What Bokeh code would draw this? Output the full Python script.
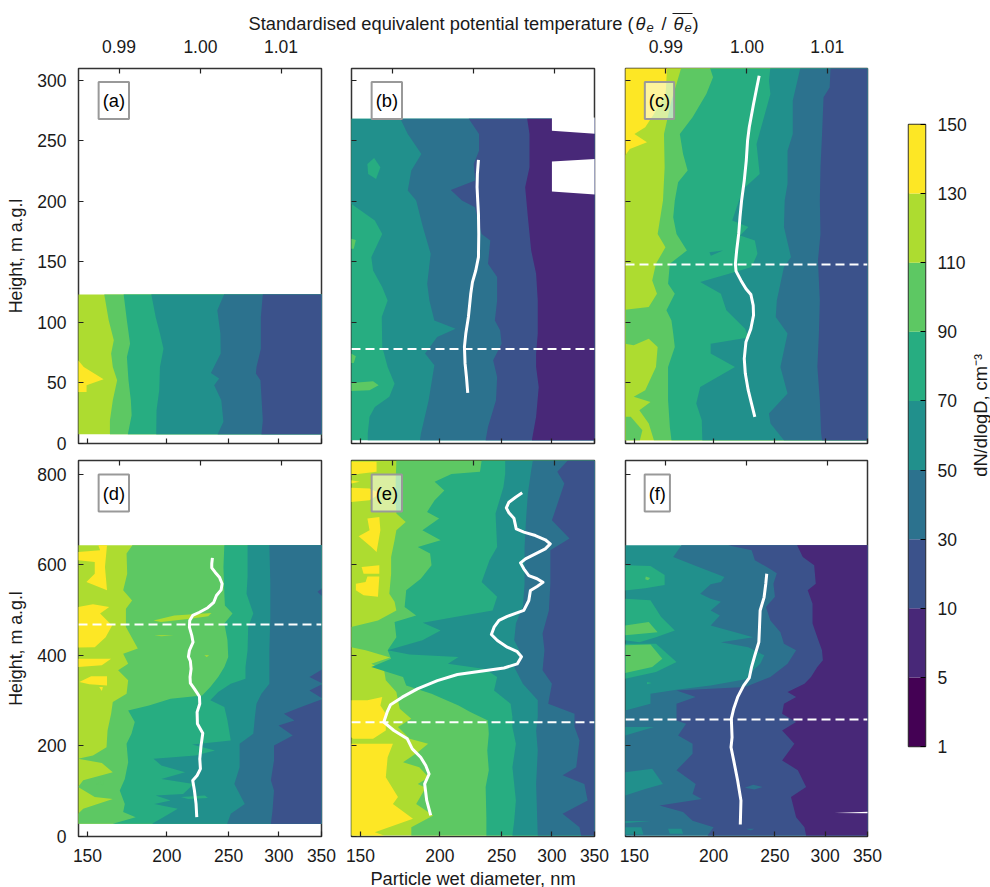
from bokeh.embed import file_html
from bokeh.resources import INLINE
from bokeh.layouts import column, row
from bokeh.models import (Range1d, LinearAxis, FixedTicker, PrintfTickFormatter, Label,
                          NumeralTickFormatter)
from bokeh.plotting import figure

FONT = "Liberation Sans"
FS = "17.5px"
FL = "18.3px"
INK = "#1a1a1a"

C1, C5, C10, C30, C50, C70, C90, C110, C130 = ("#440154", "#482878", "#3B528B", "#2C728E", "#21908C",
                                                "#27AD81", "#5DC863", "#ADDC30", "#FDE725")
cb_labels = ["1", "5", "10", "30", "50", "70", "90", "110", "130", "150"]
cb_colors = [C1, C5, C10, C30, C50, C70, C90, C110, C130]

x_ticks = [150, 200, 250, 300, 350]
theta_ticks = [0.99, 1.00, 1.01]
top_y_ticks = [0, 50, 100, 150, 200, 250, 300]
bot_y_ticks = [0, 200, 400, 600, 800]

# ---------------- panel (a)
a_h110 = [123, 101.6, 85.2, 74.2, 63.2, 52.2, 35.7, 19.2, 7.7]
a_d110 = [159.4, 162, 165, 163.4, 164.4, 167, 164.4, 162.7, 162.7]
a_h90 = [123, 101.6, 82.4, 71.4, 52.2, 35.7, 23.3, 7.7]
a_d90 = [171, 173, 175, 173, 174, 175.5, 176, 173.6]
a_h70 = [123, 104.4, 90.7, 78.3, 63.2, 44, 27.5, 7.7]
a_d70 = [189, 192, 195, 197.5, 195, 194.5, 192.6, 192.4]
a_h50 = [123, 109.9, 90.7, 74.2, 58.2, 53.6, 48, 35.7, 17.9, 7.7]
a_d50 = [246, 240, 242.7, 243, 234.5, 241.6, 237.3, 243.5, 245.4, 240.3]
a_h30 = [123, 104.4, 78.3, 63.2, 57.7, 52.2, 19.2, 7.7]
a_d30 = [283, 281, 281, 276.6, 276, 280.6, 283, 281.6]
a_yd = [145, 148, 159, 149.5, 149.5, 145]
a_yh = [68.7, 63.2, 53, 48, 42.6, 42.6]

# ---------------- panel (b)
b_h70 = [268.1, 197.8, 184, 173, 153.8, 142.8, 129, 118, 104.4, 79.7, 63.2, 49.4, 38.5, 30.2, 22, 8.2, 2.7]
b_d70 = [145, 145, 158, 162.3, 156, 157, 162.3, 165.5, 162, 162.3, 165.5, 169.7, 166.5, 158, 155, 154, 154]
b_h50 = [268.1, 255.5, 239, 225.3, 208.8, 200.5, 178.6, 156.6, 131.9, 118, 101.6, 94.8, 87.9, 74.2, 64.6, 35.7, 8.2, 2.7]
b_d50 = [173.3, 178, 187, 180.3, 178, 183.5, 188, 193.4, 191, 192.5, 196, 211.7, 198, 189.5, 196, 192, 186.7, 186]
b_h30 = [268.1, 255.5, 241.7, 230.7, 217, 209.3, 200.5, 195, 173, 167.6, 148.3, 137.4, 118, 101.6, 93.4, 82.4, 68.7, 54.9, 35.7, 13.7, 2.7]
b_d30 = [222, 230.4, 230.4, 226, 227.2, 208, 216.6, 227, 232.6, 240, 238, 246, 246, 244, 248.7, 250, 242.5, 246, 245, 238, 236]
b_h10 = [268.1, 255.5, 228, 211.5, 186.8, 159.3, 140, 118, 90.7, 74.2, 63.2, 46.7, 22, 2.7]
b_d10 = [274.3, 276.6, 276.6, 272.3, 275, 278.3, 283.3, 285, 285, 283.3, 283.3, 286, 283.3, 279]
b_gap1_d = [300, 300, 352, 352]
b_gap1_h = [269, 258.2, 255.5, 269]
b_gap2_d = [300, 352, 352, 300]
b_gap2_h = [232.7, 234.9, 205.5, 207.9]
b_i70_d = [153.8, 157.6, 161.2, 158.7, 154.2]
b_i70_h = [230.7, 235.7, 228, 218.4, 222.5]
b_g1_d = [145, 147.5, 146.4, 145]
b_g1_h = [169, 168, 160.7, 160.7]
b_g2_d = [145, 147.5, 146.4, 145]
b_g2_h = [74.2, 72, 66.5, 66.5]
b_g3_d = [145, 157, 160.2, 155, 145]
b_g3_h = [50, 51.4, 48, 44, 43.4]
b_th = [1.00062, 1.00049, 1.00045, 1.00053, 1.00062, 1.00066, 1.00062, 1.00029, 0.99988, 0.99967, 0.99938, 0.99906, 0.99889, 0.99897, 0.99914, 0.9993]
b_tz = [234, 222.5, 211.5, 200.5, 189.5, 173, 153.8, 142.8, 133.2, 123.6, 104.4, 90.7, 79.7, 65.9, 54.9, 41.8]
b_inv = 78

# ---------------- panel (c)
c_h130 = [310.4, 288.4, 272, 261, 255.5, 248.6, 243.1, 237.6, 2.7]
c_d130 = [168.9, 168, 161, 156, 150, 157, 147.5, 145, 145]
c_h110 = [310.4, 282.9, 255.5, 228, 200.5, 173, 162, 148.3, 134.6, 123.6, 112.6, 110.4, 82.4, 81, 86.5, 79.7, 63.2, 44, 38.5, 34.3, 27.5, 16.5, 2.7]
c_d110 = [177.9, 171.6, 167, 167.4, 166.4, 163.2, 167.9, 162.2, 160, 162.8, 158, 145, 145, 149.6, 158, 163.2, 162.2, 156, 149.6, 159, 152.7, 158, 161]
c_h90 = [310.4, 302.2, 288.4, 269.2, 255.5, 239, 225.3, 215.6, 200.5, 186.8, 173, 159.3, 148.3, 131.9, 123.6, 109.9, 101.6, 90.7, 79.7, 63.2, 35.7, 13.7, 2.7]
c_d90 = [197.3, 199.6, 194.8, 185.3, 176.9, 179, 182, 175.8, 173.7, 172.7, 174.8, 181.5, 170.6, 169.5, 173.7, 168.5, 171.6, 172.7, 173.7, 169.5, 169.5, 170.6, 171.6]
c_h70 = [310.4, 299.4, 288.4, 247.2, 222.5, 211.5, 203.3, 184, 178.6, 171.7, 167.6, 156.6, 145.6, 141.5, 133.2, 123.6, 109.9, 94.8, 87.4, 82.4, 74.2, 63.2, 46.7, 33, 19.2, 2.7]
c_d70 = [245.9, 244.6, 245.9, 233.8, 236.5, 224.3, 220.3, 214, 227, 220.3, 232.4, 234.6, 229.7, 216.2, 190.5, 205.4, 209.5, 224.3, 227, 197.9, 197.9, 216.2, 190.5, 187.8, 191.6, 192]
c_h50 = [310.4, 282.9, 255.5, 241.7, 214.3, 200.5, 178.6, 153.8, 145.6, 118, 104.4, 90.7, 63.2, 41.2, 24.7, 16.5, 2.7]
c_d50 = [274.3, 266.7, 266.7, 261.7, 261.7, 259, 258.3, 265, 258.3, 251.7, 250.7, 261.7, 255, 261.7, 244.6, 246, 258.3]
c_h30 = [310.4, 293.9, 285.7, 255.5, 228, 200.5, 173, 151, 118, 90.7, 63.2, 35.7, 8.2, 2.7]
c_d30 = [306, 305, 298.3, 296.7, 295, 294.3, 295, 292.3, 294.3, 293.3, 291.7, 294.3, 295.7, 296.7]
c_i50_d = [197, 207, 198]
c_i50_h = [157.9, 159.3, 155]
c_g_d = [145, 148, 154.4, 153, 145]
c_g_h = [22, 22, 11, 2.7, 2.7]
c_th = [1.00152, 1.00119, 1.00082, 1.00029, 1.00008, 0.99992, 0.99967, 0.99934, 0.99914, 0.99898, 0.99873, 0.99857, 0.99865, 0.99926, 0.99988, 1.00049, 1.00078, 1.00082, 1.00049, 0.99988, 0.99967, 0.9998, 1.00016, 1.00057, 1.00098]
c_tz = [303.5, 292.6, 280.2, 261, 250, 233.5, 217, 200.5, 186.8, 173, 159.3, 148.3, 142.3, 134.6, 127.7, 123, 114, 105.8, 94.8, 83.8, 70, 57.7, 44, 33, 22]
c_inv = 147.8

# ---------------- panel (d)
d_h110 = [643, 624.5, 580, 543.5, 521, 503, 462.5, 415, 403.5, 381.5, 367, 345, 315, 297, 271, 234, 197, 179, 171.6, 162, 142, 124, 109, 87, 83, 61, 50, 28]
d_d110 = [176.5, 172.8, 173.2, 170.7, 176.3, 172.4, 172.4, 180, 170.7, 173.8, 167.6, 173.8, 172.8, 164.4, 163.4, 161.3, 160.7, 153, 145, 158, 164.4, 147.7, 145, 154, 164.4, 147.7, 145, 145]
d_h90 = [643, 595, 536, 510, 492, 470, 433, 396, 374, 352, 330, 311.5, 304, 289, 278, 252.6, 227, 204.7, 164, 127, 101.6, 72, 54, 42.7, 28]
d_d90 = [246.2, 245.4, 246.2, 246.7, 253.6, 246.2, 249, 249.7, 246.2, 240.8, 234, 227.2, 202.7, 187.4, 173.8, 178, 175.9, 172.8, 173.8, 171.7, 168.6, 171.7, 170.7, 178.6, 164.4]
d_h70 = [643, 573, 536, 492, 462.5, 411, 374, 348, 337, 319, 300.5, 286, 256, 212, 203, 190, 179, 171.6, 157, 142, 127, 116, 94, 90.6, 79.5, 72, 61, 42.7, 28]
d_d70 = [267.8, 267.8, 266.8, 273.4, 268.4, 267.8, 265.8, 265.8, 252, 240.8, 234, 246.2, 249, 252, 219.1, 238, 221.8, 190.5, 196, 213.6, 196, 220.4, 212, 192, 202.7, 191.1, 208, 197.4, 189.5]
d_h50 = [643, 558, 484.5, 411, 337, 315, 293, 263.6, 227, 204.7, 153, 116, 72, 50, 28]
d_d50 = [289.8, 290.8, 290.8, 289.8, 289.8, 281.6, 276.6, 275, 273.4, 260.2, 260.2, 255.3, 265.1, 252, 248.7]
d_h30 = [370, 352, 337, 322.5, 304, 286, 271, 256, 245, 223, 201, 168, 124, 101.6, 57, 28]
d_d30 = [352, 335, 352, 335, 352, 325, 305.5, 317.3, 299.6, 315.4, 294.7, 294.7, 291.4, 294.7, 293.1, 291.4]
d_nib_d = [352, 345, 352]
d_nib_h = [550, 540, 529]
d_y1_d = [145, 157, 156, 161, 159.8, 161, 149.4, 154, 154, 145]
d_y1_h = [628, 632, 643, 643, 595, 543.5, 562, 580, 606, 610]
d_y2_d = [145, 153, 162.3, 157, 164, 160.2, 154, 145]
d_y2_h = [506.6, 512.5, 506.6, 492, 466, 440, 418, 417]
d_y3_d = [145, 163.4, 158, 145]
d_y3_h = [392.5, 392.5, 378, 374]
d_y4_d = [145.6, 152, 161, 161, 151]
d_y4_h = [341, 353.5, 353.5, 333.6, 336]
d_y5_d = [156.5, 158.6, 158]
d_y5_h = [330, 330, 321]
d_l1_d = [190.5, 205.4, 235, 232.2, 219, 195.8]
d_l1_h = [477, 488, 493.4, 486, 481, 473.5]
d_l2_d = [191, 205, 196]
d_l2_h = [444, 444, 442]
d_l3_d = [229, 233, 231]
d_l3_h = [400, 400, 396]
d_g1_d = [155, 159, 158.6]
d_g1_h = [116, 124, 113]
d_t1_d = [210.3, 229.4, 232, 216]
d_t1_h = [87, 90.6, 85, 83]
d_th = [1.00148, 1.0014, 1.0014, 1.00181, 1.00235, 1.00268, 1.00256, 1.00198, 1.00165, 1.00091, 0.99988, 0.99905, 0.99868, 0.99864, 0.99893, 0.99909, 0.99864, 0.99852, 0.99876, 0.99885, 0.99872, 0.99876, 0.99926, 0.99988, 0.99992, 0.99959, 0.99963, 1.00029, 1.00008, 0.99992, 1.0, 0.99959, 0.99905, 0.99926, 0.99946, 0.99955]
d_tz = [615, 602, 593, 583.5, 572.5, 558, 544.5, 532, 517, 505, 495, 488, 477, 462, 444, 429, 410.6, 397, 387, 370, 352, 338.5, 326, 309, 293, 274.5, 249, 228, 201, 171.4, 149.4, 134.6, 123.6, 101.5, 72, 42.7]
d_inv = 468

# ---------------- panel (e)
e_h110 = [830, 786.5, 742, 713, 694, 676, 654, 617, 580, 536, 518, 499, 477, 462.5, 418, 411, 395, 381.5, 367, 345, 319, 282, 260, 241.5, 216, 204.7, 186, 164, 153, 131, 116, 107.5, 72, 46.4, 20.6, 2]
e_d110 = [170.8, 170.4, 170.4, 170.8, 176.7, 170.8, 169.7, 167.6, 167.6, 166.5, 169.7, 170.8, 159.8, 145, 145, 152.8, 167, 156, 163.4, 164.4, 170.8, 172.9, 180.3, 171.8, 179.3, 191.6, 184.6, 175, 185.6, 192, 184.6, 189.9, 183.5, 195.2, 180.3, 180.3]
e_h90 = [830, 805, 800, 783, 764, 742, 716.5, 702, 676, 654, 639, 624.5, 599, 569, 543.5, 506.6, 488, 473.5, 440, 411, 392.5, 374, 352, 333.6, 315, 289, 275, 256, 227, 190, 146, 109, 42.7, 2]
e_d90 = [232.6, 231.2, 208.5, 196.2, 203.2, 196.2, 190.9, 199.4, 187.7, 200.5, 184.6, 193, 194, 186.6, 177, 176, 183.5, 169.7, 170.8, 165.5, 167.6, 156, 175, 177, 194, 213.9, 223.2, 237.9, 238.7, 237.4, 238.7, 236, 236.6, 236.6]
e_h70 = [830, 801, 771.7, 713, 639, 610, 562, 529, 499, 484.5, 472, 455, 433, 411, 402, 396, 381.5, 370, 352, 322.5, 293, 263.6, 241.5, 204.7, 153, 79.5, 35, 2]
e_d70 = [253.3, 253.3, 251.7, 244.6, 246, 239.3, 232.6, 246, 242, 211.2, 188, 200.5, 187.7, 165.5, 179.2, 213.9, 205.9, 235.3, 246, 243.3, 258.3, 260, 260, 263.3, 260, 263.3, 261.7, 260]
e_h50 = [830, 808.6, 757, 705.5, 639, 558, 506.6, 499, 470, 433, 403.5, 374, 337, 300.5, 263.6, 234, 190, 116, 2]
e_d50 = [280, 278.3, 275, 273.3, 271.7, 271.7, 270, 268.3, 263.3, 261.7, 268.3, 261.7, 270, 285, 285, 283.3, 285, 283.3, 285]
e_h30 = [830, 805, 779, 698, 657.6, 632, 558, 499, 448, 411, 367, 337, 293, 271, 241.5, 212, 153, 135, 116, 79.5, 50, 20.6, 2]
e_d30 = [317.7, 305.9, 313.8, 300, 319.7, 298.3, 298.3, 296.7, 290, 292, 290, 300, 296, 325.6, 325.6, 331.5, 327.6, 311.8, 337.4, 341.4, 311.8, 331.5, 333.5]
e_y1_d = [145, 159, 159, 149.6, 145]
e_y1_h = [827, 827, 805, 801, 797.5]
e_y2_d = [145, 149.6, 145]
e_y2_h = [786.5, 783, 779]
e_y3_d = [145, 155, 161.2, 155, 145]
e_y3_h = [770, 768, 757, 742, 738.6]
e_y4_d = [153.8, 160.6, 161.2, 159, 156, 149, 155]
e_y4_h = [702, 705.5, 676, 628, 639, 663, 676]
e_y5_d = [150.6, 160.6, 160.6, 151.7]
e_y5_h = [595, 599, 580, 580]
e_y6_d = [147.5, 152.8, 153.8, 160.6, 159.8, 151.7, 147.5]
e_y6_h = [558, 562, 574, 574, 529, 532.4, 543.5]
e_y7_d = [145, 153.8, 162.3, 161.2, 164.4, 164.4, 157, 146, 145]
e_y7_h = [300.5, 300.5, 308, 289, 271, 234, 216, 216, 219]
e_y8_d = [145, 168.7, 165.5, 164.4, 171.8, 168.7, 181.4, 158, 163.4, 145]
e_y8_h = [204.7, 204.7, 175, 131, 87, 72, 39, 9.6, 2, 2]
e_th = [1.00604, 1.00522, 1.00439, 1.00407, 1.00439, 1.00501, 1.0053, 1.00624, 1.00768, 1.00891, 1.00953, 1.00891, 1.00768, 1.00645, 1.00583, 1.00624, 1.00686, 1.00789, 1.00862, 1.00789, 1.00706, 1.00686, 1.00624, 1.00419, 1.00316, 1.00255, 1.00222, 1.00296, 1.00419, 1.00542, 1.00595, 1.00542, 1.00378, 1.0009, 0.99803, 0.99556, 0.9931, 0.99125, 0.98982, 0.9894, 0.98899, 0.99023, 0.99187, 0.99248, 0.99351, 0.99413, 0.99454, 0.994, 0.99425, 0.99474]
e_tz = [758.6, 749, 738, 725.5, 714.5, 702.7, 679, 672, 664.4, 655, 646, 635, 624, 613, 604, 591, 576, 569, 561, 552, 543, 521, 499, 486, 477, 462, 446, 432.6, 418, 408, 397, 381, 372, 365, 357.6, 344, 326, 307.6, 291, 274.5, 252.4, 234, 215.6, 193.5, 175, 156.7, 138, 116, 79.5, 46.4]
e_inv = 252

# ---------------- panel (f)
f_h50 = [643, 617, 599, 573, 562, 557, 536, 525, 518, 499, 488, 466, 440, 429, 418, 400, 381.5, 367, 348, 333.6, 324, 315, 293, 278, 2]
f_d50 = [178, 172.7, 186.3, 208.1, 205.4, 197.9, 190.5, 197.9, 205.4, 197.9, 204.6, 197.9, 231, 205.4, 227, 240.5, 237, 231, 227, 197.9, 174.8, 159, 159, 145, 145]
f_h30 = [643, 632, 610, 592, 581, 558, 529, 506.6, 477, 451, 425.6, 411, 381.5, 352, 330, 322.5, 308, 293, 256, 249, 223, 204.7, 182.6, 146, 116, 94, 83, 68.5, 54, 35, 20.6, 2]
f_d30 = [210.8, 229.7, 232.4, 244.6, 251.7, 248.6, 250, 241.9, 245.9, 255, 258.3, 270, 261.7, 245.9, 224.3, 174.8, 187.4, 174.8, 174.8, 181, 175.8, 185.3, 185.3, 174.8, 187.4, 185.3, 191.6, 164.3, 179, 185.3, 200, 195.7]
f_h10 = [643, 617, 599, 558, 543.5, 514, 470, 440, 411, 389, 374, 352, 337, 319, 308, 293, 271, 252.6, 234, 204.7, 168, 146, 109, 87, 42.7, 20.6, 2]
f_d10 = [271, 276.6, 288.3, 290, 281.6, 286.6, 286.6, 291.6, 296.6, 297.6, 291.6, 285, 278.3, 261.7, 270, 258.3, 256.6, 270, 256.6, 268.3, 256.6, 271.7, 280, 265, 270, 278.3, 280]
f_p1_d = [145, 161, 145]
f_p1_h = [241.5, 241.5, 223]
f_p2_d = [145, 160, 166.4, 156, 145]
f_p2_h = [142, 149.5, 116, 105, 90.6]
f_p3_d = [145, 159, 145]
f_p3_h = [34, 34, 29.5]
f_p4_d = [169.5, 178, 179, 170.6]
f_p4_h = [17, 17, 6, 6]
f_p5_d = [145, 153.8, 155, 145]
f_p5_h = [20.6, 20.6, 4.4, 4.4]
f_q1_d = [224, 231, 239, 232]
f_q1_h = [107.5, 114, 109, 103.5]
f_q2_d = [225, 232, 229]
f_q2_h = [17, 17, 13]
f_t1_d = [145, 159, 167.4, 167.4, 156, 145]
f_t1_h = [599, 597, 577, 555, 548, 543]
f_t2_d = [145, 159, 165.3, 173.7, 162.2, 152.7, 145]
f_t2_h = [525, 521.4, 484.5, 455, 440, 429, 433]
f_t3_d = [145, 162.2, 174.8, 162.2, 145]
f_t3_h = [425.6, 425.6, 385, 363, 348]
f_t4_d = [157, 159.7, 157]
f_t4_h = [341, 339, 336]
f_g1_d = [145, 158, 163.2, 145]
f_g1_h = [466, 473.5, 451, 444]
f_g2_d = [145, 159, 166, 160, 145]
f_g2_h = [422, 424, 392.5, 374, 361]
f_g3_d = [156.3, 158.8, 157.6, 156]
f_g3_h = [574, 570.6, 565.5, 568]
f_w_d = [310.3, 352, 352]
f_w_h = [52, 55, 51.5]
f_th = [1.00246, 1.00234, 1.00213, 1.00164, 1.00156, 1.00148, 1.00098, 1.00057, 1.00029, 0.99959, 0.99885, 0.99836, 0.99807, 0.99816, 0.99803, 0.99836, 0.99885, 0.99926, 0.99918]
f_tz = [580, 558, 528, 499, 462, 429, 399.5, 374, 350, 333, 307.6, 282, 260, 219, 197, 168, 123.6, 79.5, 26.5]
f_inv = 258

X_LO, X_HI = 145.2, 350.0
TH_LO, TH_HI = 0.98506, 1.01506


def panel(frame_w, frame_h, ytop, yticks, left, right, top, bottom,
          xlabels, ylabels, thetalabels, xlabel=None, ylabel=None):
    p = figure(x_axis_type="log", x_range=Range1d(X_LO, X_HI), y_range=Range1d(0, ytop),
               frame_width=frame_w, frame_height=frame_h, min_border_left=left, min_border_right=right,
               min_border_top=top, min_border_bottom=bottom, toolbar_location=None,
               output_backend="svg", background_fill_color="white", border_fill_color="white")
    p.grid.visible = False
    p.outline_line_color = "#333333"
    p.outline_line_width = 1.5
    p.extra_x_ranges = {"theta": Range1d(TH_LO, TH_HI)}
    ax_top = LinearAxis(x_range_name="theta", ticker=FixedTicker(ticks=theta_ticks),
                        formatter=NumeralTickFormatter(format="0.00"))
    p.add_layout(ax_top, "above")
    ax_bot = p.below[0]
    ax_left = p.left[0]
    ax_bot.ticker = FixedTicker(ticks=x_ticks)
    ax_bot.formatter = PrintfTickFormatter(format="%d")
    ax_left.ticker = FixedTicker(ticks=yticks)
    for ax, show, ticks in [(ax_bot, xlabels, x_ticks), (ax_left, ylabels, yticks), (ax_top, thetalabels, theta_ticks)]:
        ax.axis_line_color = None
        ax.major_tick_in = 5
        ax.major_tick_out = 0
        ax.minor_tick_line_color = None
        ax.major_tick_line_color = "#222222"
        ax.major_tick_line_width = 1.2
        ax.major_label_text_font = FONT
        ax.major_label_text_color = INK
        if show:
            ax.major_label_text_font_size = FS
            ax.major_label_standoff = 16 if ax is ax_top else 12
        else:
            ax.major_label_text_font_size = "1px"
            ax.major_label_standoff = 0
            ax.major_label_overrides = {t: "" for t in ticks}
    if xlabel:
        ax_bot.axis_label = xlabel
        ax_bot.axis_label_text_font = FONT
        ax_bot.axis_label_text_font_style = "normal"
        ax_bot.axis_label_text_font_size = FL
        ax_bot.axis_label_text_color = INK
        ax_bot.axis_label_standoff = 3
    if ylabel:
        ax_left.axis_label = ylabel
        ax_left.axis_label_text_font = FONT
        ax_left.axis_label_text_font_style = "normal"
        ax_left.axis_label_text_font_size = "17.8px"
        ax_left.axis_label_text_color = INK
        ax_left.axis_label_standoff = 8
    return p


def base(p, h_lo, h_hi, color):
    p.quad(left=[X_LO - 1], right=[X_HI + 2], bottom=[h_lo], top=[h_hi], fill_color=color, line_color=None)


def band(p, d, h, color):
    p.patch(d + [X_HI + 2, X_HI + 2], h + [h[-1], h[0]], fill_color=color, line_color=None)


def isle(p, d, h, color):
    p.patch(d, h, fill_color=color, line_color=None)


def theta_line(p, th, z, inv=None):
    if th:
        p.line(th, z, x_range_name="theta", line_color="white", line_width=3, line_join="round")
    if inv is not None:
        p.line([X_LO, X_HI], [inv, inv], line_color="white", line_width=2, line_dash="9 5")


def tag(p, text, x, y):
    p.add_layout(Label(x=x, y=y, text=text, text_font=FONT, text_font_size=FL, text_color="black",
                       text_align="center", text_baseline="middle", border_line_color="#999999",
                       border_line_width=2, background_fill_color="white", background_fill_alpha=0.55,
                       padding=(4, 8)))


TOPH, BOTH, TOPY, BOTY = 375, 376, 309.5, 830.0
TAGT, TAGB = 283, 758
BB = 49
LB = 78
RB1, RT2 = 12, 5
TB = 32
STRIP = 36

# (a)
pa = panel(243, TOPH, TOPY, top_y_ticks, LB, 15, TB, RB1, False, True, True, ylabel="Height, m a.g.l")
base(pa, 7.7, 123, C110)
for d_, h_, c_ in [(a_d110, a_h110, C90), (a_d90, a_h90, C70), (a_d70, a_h70, C50), (a_d50, a_h50, C30), (a_d30, a_h30, C10)]:
    band(pa, d_, h_, c_)
isle(pa, a_yd, a_yh, C130)
tag(pa, "(a)", 165, TAGT)

# (b)
pb = panel(243, TOPH, TOPY, top_y_ticks, 15, 15, TB, RB1, False, False, False)
base(pb, 2.7, 268.1, C70)
for d_, h_, c_ in [(b_d70, b_h70, C50), (b_d50, b_h50, C30), (b_d30, b_h30, C10), (b_d10, b_h10, C5)]:
    band(pb, d_, h_, c_)
isle(pb, b_i70_d, b_i70_h, C70)
for d_, h_ in [(b_g1_d, b_g1_h), (b_g2_d, b_g2_h), (b_g3_d, b_g3_h)]:
    isle(pb, d_, h_, C90)
isle(pb, b_gap1_d, b_gap1_h, "white")
isle(pb, b_gap2_d, b_gap2_h, "white")
theta_line(pb, b_th, b_tz, b_inv)
tag(pb, "(b)", 165, TAGT)

# (c)
pc = panel(242, TOPH, TOPY, top_y_ticks, 16, 16, TB, RB1, False, False, True)
base(pc, 2.7, 310.4, C130)
for d_, h_, c_ in [(c_d130, c_h130, C110), (c_d110, c_h110, C90), (c_d90, c_h90, C70), (c_d70, c_h70, C50), (c_d50, c_h50, C30), (c_d30, c_h30, C10)]:
    band(pc, d_, h_, c_)
isle(pc, c_i50_d, c_i50_h, C50)
isle(pc, c_g_d, c_g_h, C90)
theta_line(pc, c_th, c_tz, c_inv)
tag(pc, "(c)", 164.3, TAGT)

# (d)
pd_ = panel(243, BOTH, BOTY, bot_y_ticks, LB, 15, RT2, BB, True, True, False, ylabel="Height, m a.g.l")
base(pd_, 28, 643, C110)
for d_, h_, c_ in [(d_d110, d_h110, C90), (d_d90, d_h90, C70), (d_d70, d_h70, C50), (d_d50, d_h50, C30), (d_d30, d_h30, C10)]:
    band(pd_, d_, h_, c_)
isle(pd_, d_nib_d, d_nib_h, C10)
for d_, h_ in [(d_y1_d, d_y1_h), (d_y2_d, d_y2_h), (d_y3_d, d_y3_h), (d_y4_d, d_y4_h), (d_y5_d, d_y5_h)]:
    isle(pd_, d_, h_, C130)
for d_, h_ in [(d_l1_d, d_l1_h), (d_l2_d, d_l2_h), (d_l3_d, d_l3_h)]:
    isle(pd_, d_, h_, C110)
isle(pd_, d_g1_d, d_g1_h, C90)
isle(pd_, d_t1_d, d_t1_h, C70)
theta_line(pd_, d_th, d_tz, d_inv)
tag(pd_, "(d)", 165, TAGB)

# (e)
pe = panel(243, BOTH, BOTY, bot_y_ticks, 15, 15, RT2, BB, True, False, False, xlabel="Particle wet diameter, nm")
base(pe, 2, 830, C110)
for d_, h_, c_ in [(e_d110, e_h110, C90), (e_d90, e_h90, C70), (e_d70, e_h70, C50), (e_d50, e_h50, C30), (e_d30, e_h30, C10)]:
    band(pe, d_, h_, c_)
for d_, h_ in [(e_y1_d, e_y1_h), (e_y2_d, e_y2_h), (e_y3_d, e_y3_h), (e_y4_d, e_y4_h), (e_y5_d, e_y5_h), (e_y6_d, e_y6_h), (e_y7_d, e_y7_h), (e_y8_d, e_y8_h)]:
    isle(pe, d_, h_, C130)
theta_line(pe, e_th, e_tz, e_inv)
tag(pe, "(e)", 165, TAGB)

# (f)
pf = panel(242, BOTH, BOTY, bot_y_ticks, 16, 16, RT2, BB, True, False, False)
base(pf, 2, 643, C50)
for d_, h_, c_ in [(f_d50, f_h50, C30), (f_d30, f_h30, C10), (f_d10, f_h10, C5)]:
    band(pf, d_, h_, c_)
for d_, h_ in [(f_p1_d, f_p1_h), (f_p2_d, f_p2_h), (f_p3_d, f_p3_h), (f_p4_d, f_p4_h), (f_p5_d, f_p5_h)]:
    isle(pf, d_, h_, C50)
isle(pf, f_q1_d, f_q1_h, C30)
isle(pf, f_q2_d, f_q2_h, C30)
for d_, h_ in [(f_t1_d, f_t1_h), (f_t2_d, f_t2_h), (f_t3_d, f_t3_h), (f_t4_d, f_t4_h)]:
    isle(pf, d_, h_, C70)
for d_, h_ in [(f_g1_d, f_g1_h), (f_g2_d, f_g2_h), (f_g3_d, f_g3_h)]:
    isle(pf, d_, h_, C90)
isle(pf, f_w_d, f_w_h, "white")
theta_line(pf, f_th, f_tz, f_inv)
tag(pf, "(f)", 163, TAGB)

# colour bar
cb = figure(x_range=Range1d(0, 1), y_range=Range1d(0, len(cb_colors)), frame_width=17, frame_height=622,
            min_border_left=25, min_border_right=43, min_border_top=88, min_border_bottom=BB + 90,
            toolbar_location=None, output_backend="svg", x_axis_location=None, y_axis_location="right",
            border_fill_color="white")
cb.grid.visible = False
cb.outline_line_color = "#333333"
cb.outline_line_width = 1.5
cb.quad(left=0, right=1, bottom=list(range(len(cb_colors))), top=list(range(1, len(cb_colors) + 1)),
        fill_color=cb_colors, line_color=None)
ax = cb.yaxis[0]
ax.ticker = FixedTicker(ticks=list(range(len(cb_labels))))
ax.major_label_overrides = {i: t for i, t in enumerate(cb_labels)}
ax.axis_line_color = None
ax.major_tick_in = 5
ax.major_tick_out = 0
ax.minor_tick_line_color = None
ax.major_label_standoff = 12
ax.major_label_text_font = FONT
ax.major_label_text_font_size = FS
ax.major_label_text_color = INK

# strip holding the colour-bar title
cl = figure(x_range=Range1d(968, 990), y_range=Range1d(885, STRIP), width=22, height=885 - STRIP, min_border=0,
            toolbar_location=None, output_backend="svg", x_axis_location=None, y_axis_location=None,
            outline_line_color=None, border_fill_color="white")
cl.grid.visible = False
cl.add_layout(Label(x=978.5, y=433, text="dN/dlogD, cm\u207b\u00b3", angle=90, angle_units="deg", text_font=FONT,
                    text_font_size=FL, text_color=INK, text_align="center", text_baseline="middle"))

# top title strip
tt = figure(x_range=Range1d(0, 990), y_range=Range1d(STRIP, 0), width=990, height=STRIP, min_border=0,
            toolbar_location=None, output_backend="svg", x_axis_location=None, y_axis_location=None,
            outline_line_color=None, border_fill_color="white")
tt.grid.visible = False


def tlabel(x, y, text, size=FL, style="normal"):
    tt.add_layout(Label(x=x, y=y, text=text, text_font=FONT, text_font_size=size, text_font_style=style,
                        text_color=INK, text_align="left", text_baseline="alphabetic"))


tlabel(248, 23, "Standardised equivalent potential temperature (")
tlabel(635, 23, "\u03b8", style="italic")
tlabel(646, 27, "e", size="13px", style="italic")
tlabel(661, 23, "/")
tlabel(673, 23, "\u03b8", style="italic")
tlabel(684, 27, "e", size="13px", style="italic")
tlabel(692, 23, ")")
tt.line([672, 692], [13, 13], line_color=INK, line_width=1.2)

top_row = row(pa, pb, pc, spacing=0)
bot_row = row(pd_, pe, pf, spacing=0)
grid = column(top_row, bot_row, spacing=0)
body = row(grid, cb, cl, spacing=0)
page = column(tt, body, spacing=0)

open("out.html", "w").write(file_html(page, INLINE))
